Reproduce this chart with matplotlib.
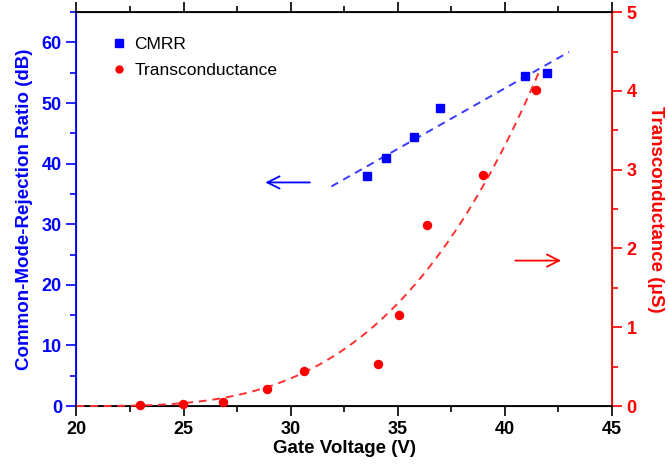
import numpy as np
import matplotlib
matplotlib.use("Agg")
from matplotlib import pyplot as plt
from matplotlib.ticker import MultipleLocator

plt.rcParams['font.family'] = ['Liberation Sans', 'DejaVu Sans']

# CMRR data (left axis)
cmrr_v = [33.55, 34.45, 35.76, 36.97, 40.94, 41.97]
cmrr_db = [37.9, 40.9, 44.4, 49.2, 54.5, 55.0]

# transconductance data (right axis)
gm_v = [22.96, 24.96, 26.85, 28.88, 30.63, 34.06, 35.07, 36.38, 38.96, 41.47]
gm_us = [0.01, 0.02, 0.05, 0.22, 0.45, 0.53, 1.16, 2.30, 2.93, 4.01]

BLUE = '#0000ff'
RED = '#ff0000'

fig = plt.figure(figsize=(6.68, 4.69), dpi=100)
ax = fig.add_axes([0.1145, 0.1343, 0.8015, 0.8397])
ax2 = ax.twinx()

# linear fit of CMRR
k, b = np.polyfit(cmrr_v, cmrr_db, 1)
xl = np.array([31.9, 43.0])
ax.plot(xl, k * xl + b, '--', color='#3a3aff', lw=1.4, dashes=(4, 3))
ax.plot(cmrr_v, cmrr_db, 's', color=BLUE, ms=5.5, label='CMRR')

# power-law fit of transconductance: y = a*(V-20)^n
t = np.array(gm_v) - 20
y = np.array(gm_us)
best = None
for n in np.linspace(1, 6, 501):
    a = np.sum(y * t**n) / np.sum(t**(2 * n))
    r = np.sum((y - a * t**n)**2)
    if best is None or r < best[0]:
        best = (r, a, n)
_, a, n = best
xc = np.linspace(20, 41.6, 200)
ax2.plot(xc, a * (xc - 20)**n, '--', color='#ff3030', lw=1.4, dashes=(4, 3),
         clip_on=False, zorder=5)
ax2.plot(gm_v, gm_us, 'o', color=RED, ms=5.8, clip_on=False, zorder=6)
ax.plot([], [], 'o', color=RED, ms=5, label='Transconductance')

ax.set_xlim(20, 45)
ax.set_ylim(0, 65)
ax2.set_ylim(0, 5)

ax.xaxis.set_major_locator(MultipleLocator(5))
ax.xaxis.set_minor_locator(MultipleLocator(2.5))
ax.yaxis.set_major_locator(MultipleLocator(10))
ax.yaxis.set_minor_locator(MultipleLocator(5))
ax2.yaxis.set_major_locator(MultipleLocator(1))
ax2.yaxis.set_minor_locator(MultipleLocator(0.5))

ax.tick_params(axis='x', which='both', direction='out', top=True, labelsize=13, width=1.2)
ax.tick_params(axis='x', which='major', length=7)
ax.tick_params(axis='x', which='minor', length=4)
ax.tick_params(axis='y', which='both', colors=BLUE, labelsize=13, width=1.2)
ax.tick_params(axis='y', which='major', length=7)
ax.tick_params(axis='y', which='minor', length=4)
ax2.tick_params(axis='y', which='both', colors=RED, labelsize=13, width=1.2)
ax2.tick_params(axis='y', which='major', length=7)
ax2.tick_params(axis='y', which='minor', length=4)
for lab in ax.get_xticklabels() + ax.get_yticklabels() + ax2.get_yticklabels():
    lab.set_fontweight('bold')

ax2.spines['left'].set_color(BLUE)
ax2.spines['right'].set_color(RED)
for s in ax2.spines.values():
    s.set_linewidth(1.3)

ax.set_xlabel('Gate Voltage (V)', fontsize=13.5, fontweight='bold', labelpad=2)
ax.set_ylabel('Common-Mode-Rejection Ratio (dB)', fontsize=13.5, fontweight='bold',
              color=BLUE, labelpad=6)
ax2.set_ylabel('Transconductance (\u03bcS)', fontsize=13.5, fontweight='bold',
               color=RED, rotation=270, labelpad=20)

# direction arrows
ax.annotate('', xy=(28.69, 36.9), xytext=(31.03, 36.9),
            arrowprops=dict(arrowstyle='->', color=BLUE, lw=1.3, mutation_scale=22))
ax.annotate('', xy=(42.76, 24.0), xytext=(40.36, 24.0),
            arrowprops=dict(arrowstyle='->', color=RED, lw=1.3, mutation_scale=22))

ax.legend(loc='upper left', frameon=False, fontsize=12.5, handlelength=0.6,
          handletextpad=0.6, borderaxespad=0.2, labelspacing=0.6,
          bbox_to_anchor=(0.05, 0.963))

fig.savefig('out.png', dpi=100)
